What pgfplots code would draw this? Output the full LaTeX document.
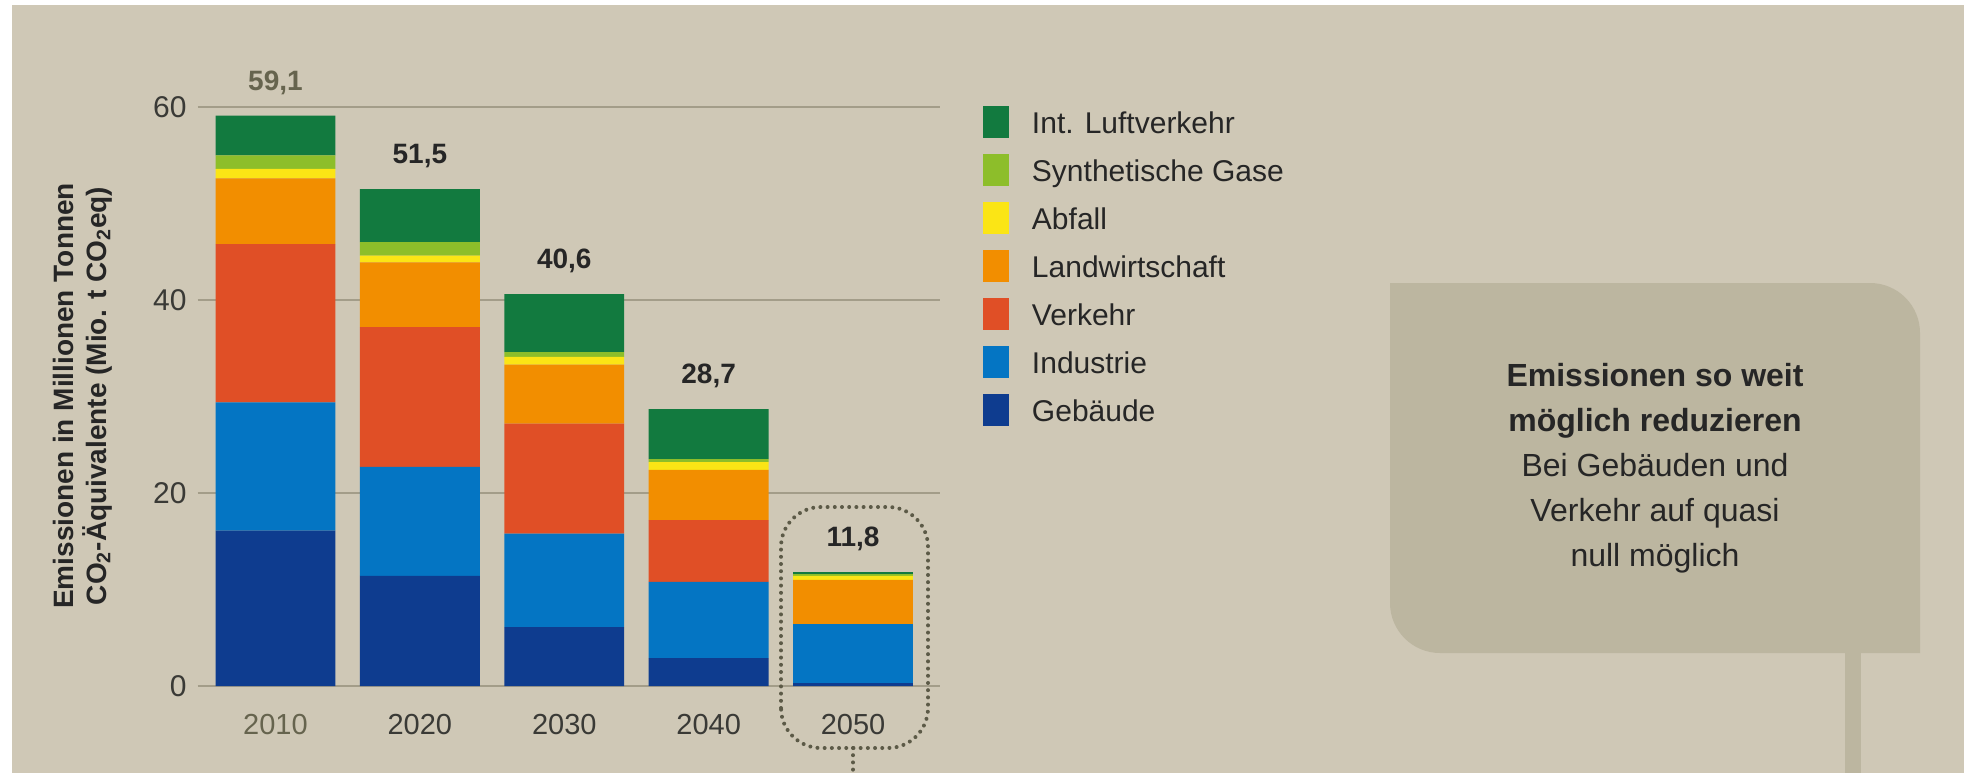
\documentclass[border=0pt]{standalone}
\usepackage{fontspec}
\setmainfont{Liberation Sans}
\usepackage{pgfplots}
\usepackage{pgfplotstable}
\pgfplotsset{compat=1.18}

\definecolor{bg}{HTML}{CFC8B6}
\definecolor{boxbg}{HTML}{BCB6A0}
\definecolor{gridc}{HTML}{A39D89}
\definecolor{dots}{HTML}{5C5A47}
\definecolor{darktext}{HTML}{262626}
\definecolor{ticktext}{HTML}{3A3A36}
\definecolor{olivetext}{HTML}{66644E}
\definecolor{cGeb}{HTML}{0E3C8F}
\definecolor{cInd}{HTML}{0475C3}
\definecolor{cVerk}{HTML}{E04F26}
\definecolor{cLandw}{HTML}{F28E00}
\definecolor{cAbf}{HTML}{FBE515}
\definecolor{cSynth}{HTML}{8DBE2A}
\definecolor{cLuft}{HTML}{127A3F}

% Mio. t CO2eq per sector, with the printed total
\pgfplotstableread{
x  geb  ind  verk landw abf synth luft sum  total
0  16.1 13.3 16.4 6.8   1.0 1.4   4.1  59.1 59,1
1  11.4 11.3 14.5 6.7   0.7 1.4   5.5  51.5 51,5
2  6.1  9.7  11.4 6.1   0.8 0.5   6.0  40.6 40,6
3  2.9  7.9  6.4  5.2   0.8 0.3   5.2  28.7 28,7
4  0.3  6.1  0.0  4.6   0.4 0.2   0.2  11.8 11,8
}\emissionen

\pgfplotsset{
  chartframe/.style={
    at={(98.75pt,43.5pt)}, anchor=south west,
    scale only axis, width=371.1pt, height=289.5pt,
    xmin=-0.54, xmax=4.6, ymin=0, ymax=60,
    clip=false,
  },
}

\begin{document}
\begin{tikzpicture}
% 1px = 0.5pt, picture 1964x773 px
\fill[white] (0,0) rectangle (982pt,386.5pt);
\fill[bg] (6pt,0) rectangle (982pt,384pt);

% callout box with stem
\fill[boxbg] (695pt,245pt) -- (935pt,245pt) arc[start angle=90,end angle=0,radius=25pt]
  -- (960pt,60pt) -- (720pt,60pt) arc[start angle=270,end angle=180,radius=25pt] -- cycle;
\fill[boxbg] (922.5pt,0) rectangle (930.5pt,60pt);
\begin{scope}[font=\fontsize{16}{20}\selectfont, text=darktext]
\node[anchor=base] at (827.5pt,193.5pt) {\bfseries Emissionen so weit};
\node[anchor=base] at (827.5pt,171pt) {\bfseries möglich reduzieren};
\node[anchor=base] at (827.5pt,148.5pt) {Bei Gebäuden und};
\node[anchor=base] at (827.5pt,126pt) {Verkehr auf quasi};
\node[anchor=base] at (827.5pt,103.5pt) {null möglich};
\end{scope}

% y axis title
\begin{scope}[font=\fontsize{14}{16}\selectfont\bfseries, text=darktext]
\node[rotate=90, anchor=base] at (36.5pt,188.5pt) {Emissionen in Millionen Tonnen};
\node[rotate=90, anchor=base] at (53pt,188.5pt) {CO\textsubscript{2}-Äquivalente (Mio. t CO\textsubscript{2}eq)};
\end{scope}

\begin{axis}[
  chartframe,
  ybar stacked, bar width=0.83,
  axis line style={draw=none},
  major tick length=0pt,
  xtick={0,1,2,3,4},
  xticklabels={{\textcolor{olivetext}{2010}},2020,2030,2040,2050},
  ytick={0,20,40,60},
  yticklabels={0,20,40,60},
  ymajorgrids,
  grid style={gridc, line width=1pt},
  xticklabel style={anchor=north, inner sep=0pt, yshift=-14pt,
    font=\fontsize{14.5}{16}\selectfont, text=ticktext},
  yticklabel style={anchor=east, inner sep=0pt, xshift=-5.25pt,
    font=\fontsize{15}{17}\selectfont, text=ticktext},
  legend style={at={(1.0583,1.0009)}, anchor=north west,
    draw=none, fill=none, inner sep=0pt, outer sep=0pt,
    row sep=8pt, column sep=11.5pt,
    font=\fontsize{15}{18}\selectfont, text=darktext,
    nodes={inner sep=0pt, text height=13.35pt, text depth=2.65pt}},
  legend cell align=left,
  reverse legend,
  legend image code/.code={
    \path (0pt,-8pt) rectangle (13pt,8pt);
    \fill[#1, draw=none] (0pt,-6.5pt) rectangle (13pt,6.5pt);
  },
]
\addplot[fill=cGeb, draw=none] table[x=x, y=geb] {\emissionen};
\addplot[fill=cInd, draw=none] table[x=x, y=ind] {\emissionen};
\addplot[fill=cVerk, draw=none] table[x=x, y=verk] {\emissionen};
\addplot[fill=cLandw, draw=none] table[x=x, y=landw] {\emissionen};
\addplot[fill=cAbf, draw=none] table[x=x, y=abf] {\emissionen};
\addplot[fill=cSynth, draw=none] table[x=x, y=synth] {\emissionen};
\addplot[fill=cLuft, draw=none] table[x=x, y=luft] {\emissionen};
\legend{Gebäude, Industrie, Verkehr, Landwirtschaft, Abfall, Synthetische Gase, Int. Luftverkehr}
\end{axis}

% totals above the stacks, in an overlaid axis with the same frame
\begin{axis}[chartframe, hide axis]
\addplot[only marks, mark=*, mark size=0pt, mark options={opacity=0},
  point meta=explicit symbolic,
  nodes near coords={\ifnum\coordindex=0 \color{olivetext}\fi\pgfplotspointmeta},
  every node near coord/.style={anchor=center, yshift=16.5pt, inner sep=0pt,
    font=\fontsize{14}{16}\selectfont\bfseries, text=darktext, opacity=1}]
  table[x=x, y=sum, meta=total] {\emissionen};
\end{axis}

% dotted frame round 2050
\draw[dots, line width=2pt, line cap=round, dash pattern=on 0pt off 3.6pt, rounded corners=20pt]
  (390.5pt,12.5pt) rectangle (464pt,133pt);
\draw[dots, line width=2pt, line cap=round, dash pattern=on 0pt off 3.6pt]
  (426.5pt,12.5pt) -- (426.5pt,0pt);

\pgfresetboundingbox
\path[use as bounding box] (0,0) rectangle (982pt,386.5pt);
\end{tikzpicture}
\end{document}
